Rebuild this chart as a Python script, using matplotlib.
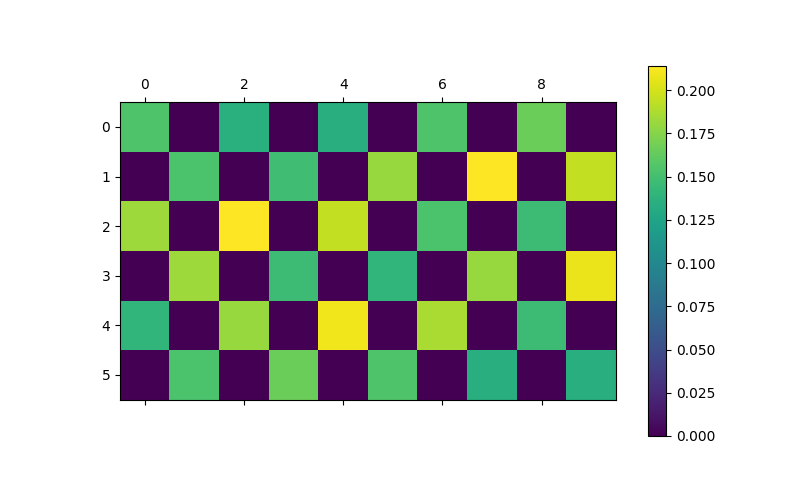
import numpy as np
import matplotlib
matplotlib.use("Agg")
import matplotlib.pyplot as plt

row0 = [0.155, 0.0, 0.136, 0.0, 0.134, 0.0, 0.155, 0.0, 0.166, 0.0]
row1 = [0.0, 0.153, 0.0, 0.148, 0.0, 0.181, 0.0, 0.214, 0.0, 0.194]
row2 = [0.183, 0.0, 0.214, 0.0, 0.194, 0.0, 0.153, 0.0, 0.147, 0.0]
row3 = [0.0, 0.183, 0.0, 0.147, 0.0, 0.141, 0.0, 0.181, 0.0, 0.208]
row4 = [0.141, 0.0, 0.181, 0.0, 0.209, 0.0, 0.187, 0.0, 0.147, 0.0]
row5 = [0.0, 0.153, 0.0, 0.166, 0.0, 0.155, 0.0, 0.134, 0.0, 0.134]

data = np.array([row0, row1, row2, row3, row4, row5])

fig, ax = plt.subplots(figsize=(8, 4.8), dpi=100)
im = ax.matshow(data, cmap="viridis")
cb = fig.colorbar(im, ax=ax)
ax.set_position([120 / 800, 80 / 480, 496 / 800, 298 / 480])
cb.ax.set_position([647.5 / 800, 44 / 480, 18.5 / 800, 370 / 480])
fig.savefig("out.png", dpi=100)
